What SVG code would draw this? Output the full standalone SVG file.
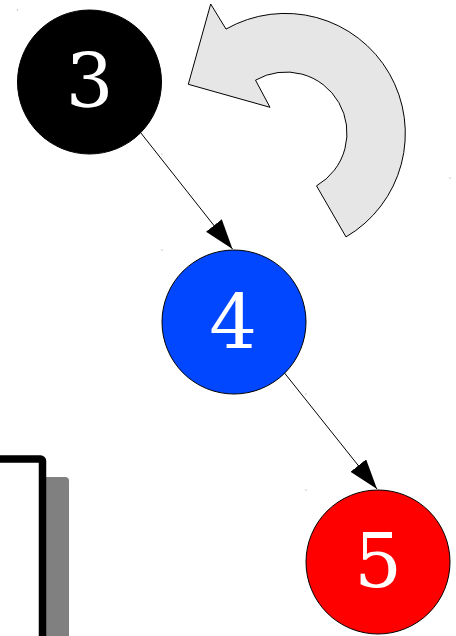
<svg xmlns="http://www.w3.org/2000/svg" width="456" height="636" viewBox="0 0 456 636">
<style>
.node circle{stroke:#000;stroke-width:1}
.node text{font-family:"DejaVu Serif",serif;font-size:75px;fill:#fff;text-anchor:middle}
.edge{stroke:#000;stroke-width:1;fill:none;marker-end:url(#ah)}
.dot{fill:#999}
</style>
<defs>
<marker id="ah" markerUnits="userSpaceOnUse" markerWidth="32" markerHeight="22" refX="30" refY="10" orient="auto">
<path d="M0,0 L30,10 L0,20 Z" fill="#000"/>
</marker>
</defs>
<rect width="456" height="636" fill="#fff"/>
<g id="box">
<rect x="-200" y="477" width="269" height="220" rx="4" fill="#808080"/>
<rect x="-300" y="459" width="342.5" height="300" rx="2" fill="#fff" stroke="#000" stroke-width="7.5"/>
</g>
<g id="rotate-arrow">
<path d="M188.3 84.3 L210.7 4 L226 29.08 A120 120 0 0 1 346 236.92 L316.5 185.83 A61 61 0 0 0 255.5 80.17 L270 107.3 Z" fill="#e6e6e6" stroke="#000" stroke-width="1"/>
</g>
<g id="connectors">
<line class="edge" x1="140.5" y1="132.5" x2="232.5" y2="249"/>
<line class="edge" x1="284.5" y1="373" x2="377" y2="489"/>
</g>
<g id="node3" class="node">
<circle cx="89.5" cy="82" r="72" fill="#000"/>
<text x="89.5" y="107">3</text>
</g>
<g id="node4" class="node">
<circle cx="234" cy="322" r="72" fill="#0047ff"/>
<text x="233" y="348">4</text>
</g>
<g id="node5" class="node">
<circle cx="378" cy="562" r="72" fill="#ff0000"/>
<text x="378" y="587">5</text>
</g>
<g id="marks">
<rect class="dot" x="17" y="9.5" width="1" height="1"/>
<rect class="dot" x="161.5" y="153.5" width="1" height="1"/>
<rect class="dot" x="161.5" y="249.5" width="1" height="1"/>
<rect class="dot" x="305.5" y="393.5" width="1" height="1"/>
<rect class="dot" x="305.5" y="489.5" width="1" height="1"/>
<rect class="dot" x="449.5" y="177.5" width="1" height="1"/>
</g>
</svg>
